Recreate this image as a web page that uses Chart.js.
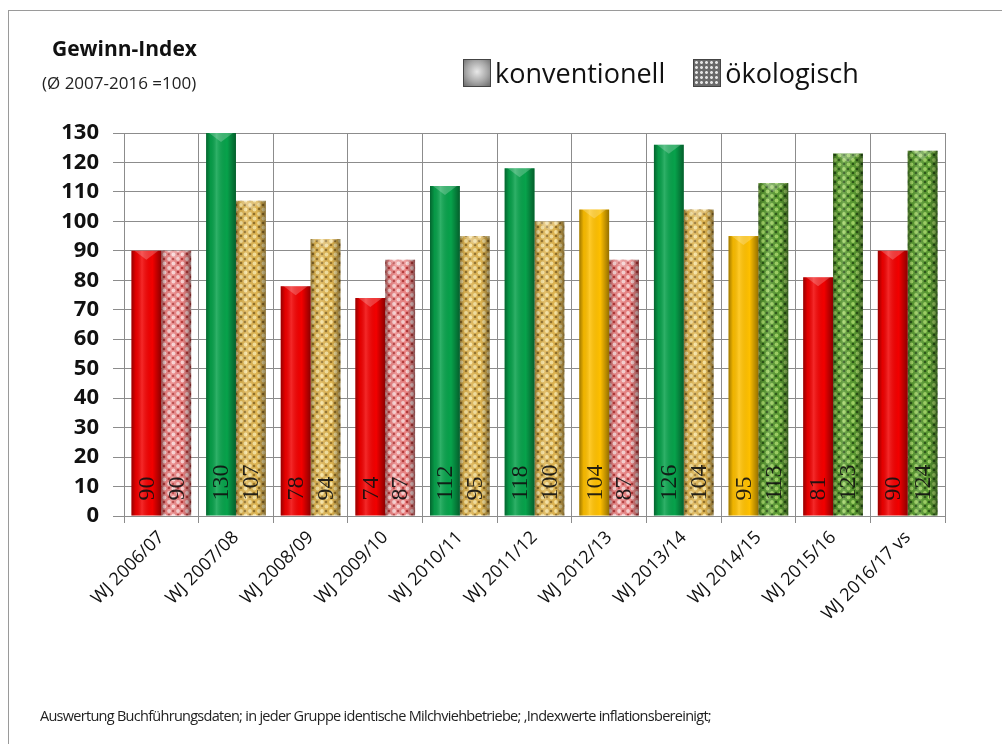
<!DOCTYPE html>
<html lang="de">
<head>
<meta charset="utf-8">
<title>Gewinn-Index</title>
<script src="https://cdn.jsdelivr.net/npm/chart.js@4.4.1/dist/chart.umd.min.js"></script>
<style>
  html, body { margin: 0; padding: 0; background: #fff; }
  body { width: 1002px; height: 744px; position: relative; overflow: hidden; font-family: "Open Sans", sans-serif; color: #111; }
  #frame { position: absolute; left: 8px; top: 10px; width: 1100px; height: 800px; border-top: 1px solid #9a9a9a; border-left: 1px solid #9a9a9a; }
  #chart { position: absolute; left: 0; top: 0; }
  .title { position: absolute; left: 52px; top: 34px; font-weight: bold; font-size: 21px; }
  .subtitle { position: absolute; left: 42px; top: 71px; font-size: 17px; color: #222; }
  #legend { position: absolute; left: 463px; top: 54px; display: flex; align-items: center; font-size: 27px; color: #111; }
  #legend .item { display: flex; align-items: center; margin-right: 28px; }
  #legend .box { width: 28px; height: 28px; margin-right: 4px; box-sizing: border-box; border: 1px solid #444; }
  .footer { position: absolute; left: 40px; top: 706px; font-size: 14.5px; letter-spacing: -0.72px; color: #222; white-space: nowrap; }
</style>
</head>
<body>
<div id="frame"></div>
<canvas id="chart" width="1002" height="744"></canvas>
<div class="title">Gewinn-Index</div>
<div class="subtitle">(Ø 2007-2016 =100)</div>
<div id="legend"></div>
<div class="footer">Auswertung Buchführungsdaten; in jeder Gruppe identische Milchviehbetriebe; ,Indexwerte inflationsbereinigt;</div>

<script>
// Wirtschaftsjahre
const years = [
  "WJ 2006/07", "WJ 2007/08", "WJ 2008/09", "WJ 2009/10", "WJ 2010/11", "WJ 2011/12",
  "WJ 2012/13", "WJ 2013/14", "WJ 2014/15", "WJ 2015/16", "WJ 2016/17 vs"
];
const seriesNames = ["konventionell", "ökologisch"];
const konventionell = [90, 130, 78, 74, 112, 118, 104, 126, 95, 81, 90];
const oekologisch = [90, 107, 94, 87, 95, 100, 87, 104, 113, 123, 124];
const yTicks = [0, 10, 20, 30, 40, 50, 60, 70, 80, 90, 100, 110, 120, 130];

// Ampelfarben je nach Indexwert
function level(v) {
  if (v <= 90) return 0;
  if (v <= 110) return 1;
  return 2;
}
const convColors = ["#f20000", "#ffc000", "#07a24b"];

// Bio-Balken bekommen eine gepunktete Struktur
function makeTexture(base, light, dark) {
  const c = document.createElement("canvas");
  c.width = 9; c.height = 9;
  const g = c.getContext("2d");
  g.fillStyle = base;
  g.fillRect(0, 0, 9, 9);
  g.fillStyle = dark;
  [[7, 2], [2, 7]].forEach(([x, y]) => { g.beginPath(); g.arc(x, y, 1.3, 0, Math.PI * 2); g.fill(); });
  g.fillStyle = light;
  [[2.5, 2.5], [7, 7]].forEach(([x, y]) => { g.beginPath(); g.arc(x, y, 1.9, 0, Math.PI * 2); g.fill(); });
  return g.createPattern(c, "repeat");
}
const ecoTextures = [
  makeTexture("#ec8686", "#fbd2d2", "#b83c3c"),
  makeTexture("#dfb552", "#f7e29e", "#94722a"),
  makeTexture("#5a9a32", "#9fd264", "#2c5818")
];

// Zylinder-Schattierung und senkrechte Wertbeschriftung
const barDecor = {
  id: "barDecor",
  afterDatasetsDraw(chart) {
    const ctx = chart.ctx;
    chart.data.datasets.forEach((ds, di) => {
      const meta = chart.getDatasetMeta(di);
      meta.data.forEach((bar, i) => {
        const { x, y, base, width } = bar.getProps(["x", "y", "base", "width"], true);
        const left = x - width / 2, right = x + width / 2;
        const grad = ctx.createLinearGradient(left, 0, right, 0);
        grad.addColorStop(0, "rgba(0,0,0,0.38)");
        grad.addColorStop(0.15, "rgba(0,0,0,0.06)");
        grad.addColorStop(0.35, "rgba(255,255,255,0.16)");
        grad.addColorStop(0.7, "rgba(0,0,0,0)");
        grad.addColorStop(1, "rgba(0,0,0,0.42)");
        ctx.save();
        ctx.fillStyle = grad;
        ctx.fillRect(left, y, width, base - y);
        // angedeutete Kappe oben
        ctx.fillStyle = "rgba(255,255,255,0.22)";
        ctx.beginPath();
        ctx.moveTo(left + 3, y);
        ctx.lineTo(x, y + 9);
        ctx.lineTo(right - 3, y);
        ctx.closePath();
        ctx.fill();
        // Wert
        ctx.translate(x, base - 15);
        ctx.rotate(-Math.PI / 2);
        ctx.font = '24px "Liberation Serif", serif';
        ctx.fillStyle = "rgba(15,15,15,0.9)";
        ctx.textAlign = "left";
        ctx.textBaseline = "middle";
        ctx.fillText(String(ds.data[i]), 0, 1);
        ctx.restore();
      });
    });
  }
};

const chart = new Chart(document.getElementById("chart"), {
  type: "bar",
  data: {
    labels: years,
    datasets: [
      {
        label: seriesNames[0],
        data: konventionell,
        backgroundColor: (c) => convColors[level(c.raw)],
        borderWidth: 0
      },
      {
        label: seriesNames[1],
        data: oekologisch,
        backgroundColor: (c) => ecoTextures[level(c.raw)],
        borderWidth: 0
      }
    ]
  },
  options: {
    responsive: false,
    animation: false,
    devicePixelRatio: 1,
    layout: { padding: { top: 133, right: 57, bottom: 0, left: 0 } },
    datasets: { bar: { categoryPercentage: 0.8, barPercentage: 1.0 } },
    plugins: {
      legend: { display: false },
      tooltip: { enabled: false }
    },
    scales: {
      x: {
        afterFit: (s) => { s.height = 228; },
        grid: { offset: true, color: "#8c8c8c", lineWidth: 1, tickLength: 7 },
        border: { color: "#8c8c8c" },
        ticks: {
          minRotation: 45,
          maxRotation: 45,
          padding: 4,
          color: "#111",
          font: { family: "Open Sans", size: 18 }
        }
      },
      y: {
        min: 0,
        max: 130,
        afterFit: (s) => { s.width = 124; },
        afterBuildTicks: (s) => { s.ticks = yTicks.map((v) => ({ value: v })); },
        grid: { color: "#8c8c8c", lineWidth: 1, tickLength: 11 },
        border: { color: "#8c8c8c" },
        ticks: {
          padding: 14,
          color: "#111",
          font: { family: "Open Sans", size: 22, weight: "bold" }
        }
      }
    }
  },
  plugins: [barDecor]
});

// Legende
const legend = document.getElementById("legend");
const boxStyles = [
  "background: radial-gradient(circle at 50% 45%, #e8e8e8 0%, #a8a8a8 55%, #6a6a6a 100%);",
  "background-color: #6a6a6a; background-image: radial-gradient(circle, #e4e4e4 35%, transparent 45%); background-size: 5px 5px;"
];
chart.data.datasets.forEach((ds, i) => {
  const item = document.createElement("div");
  item.className = "item";
  item.innerHTML = '<span class="box" style="' + boxStyles[i] + '"></span><span>' + ds.label + "</span>";
  legend.appendChild(item);
});
</script>
</body>
</html>
